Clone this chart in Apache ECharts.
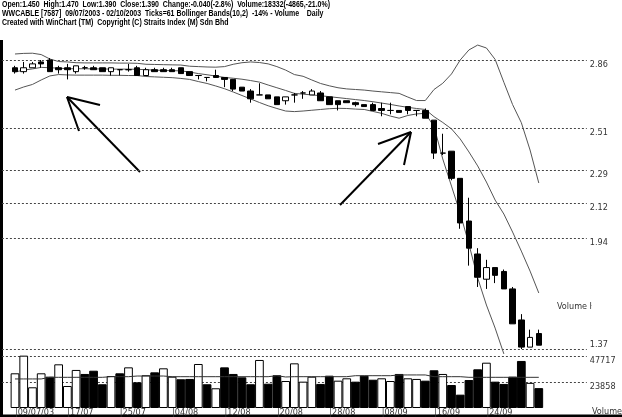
<!DOCTYPE html>
<html><head><meta charset="utf-8">
<script src="https://cdn.jsdelivr.net/npm/echarts@6/dist/echarts.min.js"></script>
<style>html,body{margin:0;padding:0;background:#fff}#c{width:622px;height:417px}</style>
</head><body><div id="c"></div>
<script>
const dates = ['09/07','10/07','11/07','14/07','15/07','16/07','17/07','18/07','21/07','22/07','23/07','24/07','25/07','28/07','29/07','30/07','31/07',
 '01/08','04/08','05/08','06/08','07/08','08/08','11/08','12/08','13/08','14/08','15/08','18/08','19/08','20/08','21/08','22/08','25/08','26/08','27/08','28/08','29/08',
 '02/09','03/09','04/09','05/09','08/09','09/09','10/09','11/09','12/09','15/09','16/09','17/09','18/09','19/09','22/09','23/09','24/09','25/09','26/09','29/09','30/09',
 '01/10','02/10'];
const xTickLabels = ['09/07/03','17/07','25/07','04/08','12/08','20/08','28/08','08/09','16/09','24/09'];

const openP  = [2.82,2.80,2.82,2.85,2.86,2.82,2.82,2.80,2.82,2.82, 2.82,2.80,2.81,2.81,2.82,2.78,2.81,2.81,2.81,2.82,
                2.80,2.78,2.77,2.78,2.77,2.76,2.72,2.70,2.68,2.68, 2.67,2.65,2.68,2.69,2.68,2.69,2.67,2.65,2.65,2.64,
                2.63,2.63,2.61,2.60,2.60,2.62,2.60,2.60,2.55,2.38, 2.39,2.25,2.03,1.86,1.73,1.79,1.77,1.68,1.52,1.38,1.45];
const highP  = [2.83,2.85,2.85,2.86,2.87,2.83,2.84,2.83,2.83,2.83, 2.82,2.82,2.81,2.84,2.83,2.82,2.82,2.82,2.82,2.82,
                2.80,2.78,2.77,2.81,2.77,2.76,2.72,2.71,2.74,2.68, 2.67,2.67,2.69,2.70,2.71,2.70,2.67,2.65,2.65,2.645,
                2.63,2.64,2.64,2.64,2.60,2.62,2.60,2.61,2.55,2.48, 2.39,2.25,2.15,1.89,1.83,1.79,1.78,1.69,1.55,1.47,1.47];
const lowP   = [2.79,2.79,2.82,2.82,2.80,2.79,2.76,2.79,2.81,2.81, 2.80,2.78,2.78,2.80,2.78,2.78,2.80,2.80,2.80,2.79,
                2.78,2.76,2.75,2.77,2.72,2.70,2.70,2.64,2.68,2.66, 2.63,2.63,2.64,2.66,2.68,2.65,2.63,2.60,2.64,2.62,
                2.62,2.60,2.57,2.58,2.59,2.58,2.57,2.56,2.35,2.37, 2.24,1.99,1.80,1.69,1.68,1.71,1.68,1.50,1.37,1.38,1.39];
const closeP = [2.80,2.82,2.84,2.84,2.80,2.81,2.81,2.83,2.82,2.81, 2.80,2.82,2.81,2.81,2.78,2.81,2.80,2.80,2.80,2.79,
                2.78,2.78,2.77,2.77,2.76,2.71,2.70,2.66,2.68,2.66, 2.63,2.67,2.68,2.69,2.70,2.65,2.63,2.63,2.64,2.63,
                2.62,2.60,2.60,2.60,2.59,2.60,2.60,2.56,2.38,2.38, 2.25,2.02,1.89,1.74,1.79,1.75,1.68,1.50,1.38,1.43,1.39];

const bandUpper = [2.891,2.894,2.895,2.888,2.865,2.852,2.850,2.846,2.845,2.845, 2.845,2.845,2.844,2.844,2.843,2.838,2.837,2.836,2.835,2.834,
                   2.828,2.826,2.824,2.823,2.826,2.838,2.846,2.850,2.847,2.840, 2.826,2.808,2.785,2.776,2.757,2.739,2.727,2.717,2.711,2.708,
                   2.705,2.700,2.696,2.692,2.688,2.669,2.651,2.651,2.708,2.740, 2.788,2.860,2.912,2.937,2.922,2.863,2.745,2.630,2.537,2.396,2.226];
const bandMiddle = [2.798,2.808,2.814,2.822,2.820,2.818,2.815,2.815,2.815,2.814, 2.814,2.813,2.813,2.813,2.812,2.810,2.808,2.806,2.805,2.804,
                    2.798,2.790,2.784,2.777,2.770,2.766,2.761,2.754,2.746,2.731, 2.717,2.703,2.688,2.684,2.680,2.676,2.671,2.666,2.661,2.656,
                    2.651,2.645,2.638,2.631,2.623,2.616,2.610,2.605,2.568,2.538, 2.505,2.453,2.386,2.314,2.231,2.138,2.066,1.973,1.875,1.772,1.659];
const bandLower = [2.705,2.721,2.734,2.757,2.778,2.785,2.783,2.782,2.782,2.782, 2.782,2.781,2.781,2.780,2.780,2.775,2.773,2.771,2.769,2.765,
                   2.760,2.749,2.739,2.726,2.712,2.695,2.677,2.659,2.641,2.624, 2.610,2.597,2.594,2.597,2.601,2.605,2.609,2.611,2.610,2.607,
                   2.605,2.595,2.585,2.571,2.560,2.574,2.582,2.585,2.517,2.350, 2.210,2.070,1.910,1.736,1.597,1.478,1.345,'-','-','-','-'];

const volume = [32000,48300,19100,32000,28900,40300,20300,35100,31400,34400, 21900,29500,32000,37500,23700,30200,32900,36600,28900,26500,
                26800,40600,21900,18200,37500,31400,28300,21900,44300,22400, 30200,24900,41200,24300,28900,22200,29800,25200,27400,24300,
                29800,26100,27400,24900,31400,27400,26800,25200,34800,31400, 21200,12300,25800,35700,41800,24300,22200,28900,43400,23197,18332];
const volumeAvg = [26800,26800,26800,26800,28300,28300,28300,28300,28300,28300, 28300,28900,28900,28900,29500,29500,29500,29500,28900,28900,
                   28900,28900,28900,28900,28900,28900,28900,28900,28900,28900, 29800,28600,28900,28900,28900,28900,28900,28900,28900,29800,
                   29800,29800,29800,29800,30500,30500,30500,30500,28900,28900, 28900,28900,28300,28300,28300,28300,28300,28300,28300,28300,28300];

const priceTicks = [2.86, 2.51, 2.29, 2.12, 1.94, 1.37];
const volumeTicks = [47717, 23858];
const headerLines = [
  'Open:1.450  High:1.470  Low:1.390  Close:1.390  Change:-0.040(-2.8%)  Volume:18332(-4865,-21.0%)',
  'WWCABLE [7587]  09/07/2003 - 02/10/2003  Ticks=61 Bollinger Bands(10,2)  -14% - Volume    Daily',
  'Created with WinChart (TM)  Copyright (C) Straits Index (M) Sdn Bhd'
];

// ---- layout helpers ----
const PAD_L = 1, PAD_R = 5;
const cats = [];
for (let i = 0; i < PAD_L; i++) cats.push('_L' + i);
dates.forEach(d => cats.push(d));
for (let i = 0; i < PAD_R; i++) cats.push('_R' + i);
const pad = arr => [...Array(PAD_L).fill('-'), ...arr, ...Array(PAD_R).fill('-')];
const labelMap = new Map(xTickLabels.map(t => [t.slice(0, 5), t]));

const FONT = '"Liberation Sans Narrow","Arial Narrow","DejaVu Sans Condensed","Liberation Sans",Arial,sans-serif';
const candleData = pad(dates.map((d, i) => [openP[i], closeP[i], lowP[i], highP[i]]));
const volData = pad(volume.map((v, i) => ({
  value: v,
  itemStyle: { color: (i === 0 || closeP[i] >= closeP[i - 1]) ? '#ffffff' : '#000000' }
})));

const tickLabel = (above) => ({
  show: true, position: 'end', distance: 3, fontSize: 9, color: '#333', fontFamily: FONT,
  verticalAlign: above ? 'bottom' : 'top', align: 'left',
  formatter: p => String(p.value)
});
const dotted = { color: '#444', width: 1, type: [2, 2] };

// header text compression
const hdrFont = 'bold 9px "Liberation Sans", Arial, sans-serif';
const mctx = document.createElement('canvas').getContext('2d');
mctx.font = hdrFont;
const hdrScale = 328 / mctx.measureText(headerLines[0]).width;

const chart = echarts.init(document.getElementById('c'), null, { renderer: 'canvas' });
const bandLine = (name, data) => ({
  name, type: 'line', xAxisIndex: 0, yAxisIndex: 0, data: pad(data), symbol: 'none',
  lineStyle: { color: '#555', width: 1 }, z: 2, silent: true, animation: false
});

chart.setOption({
  animation: false,
  backgroundColor: '#fff',
  grid: [
    { left: 1.9, width: 584.9, top: 40, height: 316 },
    { left: 1.9, width: 584.9, top: 353.8, height: 54.2 }
  ],
  xAxis: [
    { type: 'category', gridIndex: 0, data: cats, axisLine: { show: false }, axisTick: { show: false },
      axisLabel: { show: false }, splitLine: { show: false } },
    { type: 'category', gridIndex: 1, data: cats, axisLine: { show: false }, axisTick: { show: false },
      splitLine: { show: false },
      axisLabel: {
        show: true, interval: (idx, val) => labelMap.has(val), hideOverlap: false,
        formatter: v => labelMap.has(v) ? '|' + labelMap.get(v) : '',
        align: 'left', verticalAlign: 'top', margin: 0, lineHeight: 9, fontSize: 9, color: '#333', fontFamily: FONT
      } }
  ],
  yAxis: [
    { type: 'value', gridIndex: 0, min: 1.3342, max: 2.9631, show: false },
    { type: 'value', gridIndex: 1, min: 0, max: 50000, show: false }
  ],
  series: [
    bandLine('Upper', bandUpper),
    Object.assign(bandLine('Middle', bandMiddle), {
      markLine: {
        silent: true, symbol: 'none', z: 1, animation: false,
        lineStyle: dotted,
        data: priceTicks.map((v, i) => ({ yAxis: v, label: tickLabel(i === priceTicks.length - 1) }))
      }
    }),
    bandLine('Lower', bandLower),
    {
      name: 'Price', type: 'candlestick', xAxisIndex: 0, yAxisIndex: 0, data: candleData, barWidth: 6, z: 5,
      itemStyle: { color: '#ffffff', color0: '#000000', borderColor: '#000000', borderColor0: '#000000',
                   borderColorDoji: '#000000', borderWidth: 1 },
      silent: true
    },
    {
      name: 'Volume', type: 'bar', xAxisIndex: 1, yAxisIndex: 1, data: volData, barCategoryGap: '0%', z: 2,
      itemStyle: { borderColor: '#000', borderWidth: 1 }, silent: true,
      markLine: {
        silent: true, symbol: 'none', z: 1, animation: false, lineStyle: dotted,
        data: volumeTicks.map(v => ({ yAxis: v, label: tickLabel(false) }))
      }
    },
    {
      name: 'VolumeAvg', type: 'line', xAxisIndex: 1, yAxisIndex: 1, data: pad(volumeAvg), symbol: 'none',
      lineStyle: { color: '#333', width: 1 }, z: 3, silent: true
    }
  ],
  graphic: [
    ...headerLines.map((t, i) => ({
      type: 'text', x: 2, y: 5 + i * 9, scaleX: hdrScale, silent: true,
      style: { text: t, font: hdrFont, fill: '#000', verticalAlign: 'middle', align: 'left' }
    })),
    { type: 'text', x: 557, y: 307, silent: true,
      style: { text: 'Volume H', fontSize: 9, fontFamily: FONT, fill: '#333', verticalAlign: 'middle' } },
    { type: 'rect', shape: { x: 591.5, y: 300, width: 10, height: 14 }, style: { fill: '#fff' }, silent: true },
    { type: 'text', x: 592, y: 411.5, silent: true,
      style: { text: 'Volume', fontSize: 9, fontFamily: FONT, fill: '#333', verticalAlign: 'middle' } },
    // hand-drawn arrows
    { type: 'line', shape: { x1: 140, y1: 172, x2: 67, y2: 97 }, style: { stroke: '#000', lineWidth: 2 }, silent: true },
    { type: 'line', shape: { x1: 67, y1: 97, x2: 100, y2: 105 }, style: { stroke: '#000', lineWidth: 2 }, silent: true },
    { type: 'line', shape: { x1: 67, y1: 97, x2: 79, y2: 131 }, style: { stroke: '#000', lineWidth: 2 }, silent: true },
    { type: 'line', shape: { x1: 340, y1: 205, x2: 411, y2: 132 }, style: { stroke: '#000', lineWidth: 2 }, silent: true },
    { type: 'line', shape: { x1: 411, y1: 132, x2: 378, y2: 144 }, style: { stroke: '#000', lineWidth: 2 }, silent: true },
    { type: 'line', shape: { x1: 411, y1: 132, x2: 404, y2: 165 }, style: { stroke: '#000', lineWidth: 2 }, silent: true },
    // frame
    { type: 'rect', shape: { x: 0, y: 40, width: 3, height: 377 }, style: { fill: '#000' }, silent: true },
    { type: 'rect', shape: { x: 0, y: 414.5, width: 622, height: 3 }, style: { fill: '#000' }, silent: true }
  ]
});
</script>
</body></html>
